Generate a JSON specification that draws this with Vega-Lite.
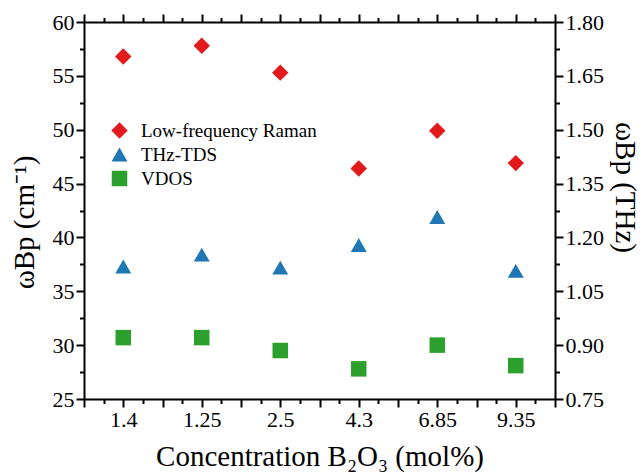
{
  "$schema": "https://vega.github.io/schema/vega-lite/v6.json",
  "width": 471,
  "height": 377,
  "autosize": "none",
  "padding": {"left": 84, "top": 22, "right": 88, "bottom": 77},
  "background": "white",
  "config": {
    "view": {"stroke": null},
    "font": "Liberation Serif",
    "axis": {
      "grid": false,
      "domainColor": "black",
      "domainWidth": 2,
      "tickColor": "black",
      "tickWidth": 2,
      "labelFont": "Liberation Serif",
      "labelFontSize": 22,
      "labelColor": "black",
      "labelPadding": 2,
      "labelOverlap": false,
      "labelFlush": false,
      "titleFont": "Liberation Serif",
      "titleFontSize": 29,
      "titleFontWeight": "normal",
      "titleColor": "black"
    }
  },
  "data": {
    "values": [
      {"conc": "1.4", "idx": 1, "series": "Low-frequency Raman", "value": 56.8},
      {"conc": "1.25", "idx": 2, "series": "Low-frequency Raman", "value": 57.8},
      {"conc": "2.5", "idx": 3, "series": "Low-frequency Raman", "value": 55.3},
      {"conc": "4.3", "idx": 4, "series": "Low-frequency Raman", "value": 46.4},
      {"conc": "6.85", "idx": 5, "series": "Low-frequency Raman", "value": 49.9},
      {"conc": "9.35", "idx": 6, "series": "Low-frequency Raman", "value": 46.9},
      {"conc": "1.4", "idx": 1, "series": "THz-TDS", "value": 37.3},
      {"conc": "1.25", "idx": 2, "series": "THz-TDS", "value": 38.4},
      {"conc": "2.5", "idx": 3, "series": "THz-TDS", "value": 37.2},
      {"conc": "4.3", "idx": 4, "series": "THz-TDS", "value": 39.3},
      {"conc": "6.85", "idx": 5, "series": "THz-TDS", "value": 41.9},
      {"conc": "9.35", "idx": 6, "series": "THz-TDS", "value": 36.9},
      {"conc": "1.4", "idx": 1, "series": "VDOS", "value": 30.7},
      {"conc": "1.25", "idx": 2, "series": "VDOS", "value": 30.7},
      {"conc": "2.5", "idx": 3, "series": "VDOS", "value": 29.5},
      {"conc": "4.3", "idx": 4, "series": "VDOS", "value": 27.8},
      {"conc": "6.85", "idx": 5, "series": "VDOS", "value": 30.0},
      {"conc": "9.35", "idx": 6, "series": "VDOS", "value": 28.1}
    ]
  },
  "layer": [
    {
      "mark": {"type": "point", "filled": true, "opacity": 1},
      "encoding": {
        "x": {
          "field": "idx",
          "type": "quantitative",
          "scale": {"domain": [0.5, 6.5], "nice": false, "zero": false},
          "axis": {
            "orient": "bottom",
            "title": "Concentration B₂O₃ (mol%)",
            "titlePadding": 12,
            "ticks": true,
            "tickSize": {"condition": {"test": "datum.value % 0.5 == 0", "value": 8}, "value": 4.5},
            "values": [0.5, 0.75, 1, 1.25, 1.5, 1.75, 2, 2.25, 2.5, 2.75, 3, 3.25, 3.5, 3.75, 4, 4.25, 4.5, 4.75, 5, 5.25, 5.5, 5.75, 6, 6.25, 6.5],
            "labelExpr": "datum.value % 1 == 0 ? ['1.4','1.25','2.5','4.3','6.85','9.35'][datum.value - 1] : ''"
          }
        },
        "y": {
          "field": "value",
          "type": "quantitative",
          "scale": {"domain": [25, 60], "nice": false, "zero": false},
          "axis": {
            "orient": "left",
            "title": "ωBp (cm⁻¹)",
            "titlePadding": 13,
            "titleY": 200,
            "ticks": true,
            "tickSize": {"condition": {"test": "datum.value % 5 == 0", "value": 8}, "value": 4.5},
            "values": [25, 27.5, 30, 32.5, 35, 37.5, 40, 42.5, 45, 47.5, 50, 52.5, 55, 57.5, 60],
            "labelExpr": "datum.value % 5 == 0 ? datum.label : ''"
          }
        },
        "color": {
          "field": "series",
          "type": "nominal",
          "sort": ["Low-frequency Raman", "THz-TDS", "VDOS"],
          "scale": {"domain": ["Low-frequency Raman", "THz-TDS", "VDOS"], "range": ["#e31a1c", "#1f77b4", "#2ca02c"]},
          "legend": {
            "title": null,
            "orient": "none",
            "legendX": 26,
            "legendY": 99,
            "padding": 0,
            "symbolSize": 130,
            "symbolStrokeWidth": 0,
            "labelFont": "Liberation Serif",
            "labelFontSize": 19,
            "labelColor": "black",
            "labelLimit": 0,
            "labelOffset": 12,
            "rowPadding": 4
          }
        },
        "shape": {
          "field": "series",
          "type": "nominal",
          "sort": ["Low-frequency Raman", "THz-TDS", "VDOS"],
          "scale": {"domain": ["Low-frequency Raman", "THz-TDS", "VDOS"], "range": ["diamond", "triangle-up", "square"]}
        },
        "size": {
          "field": "series",
          "type": "nominal",
          "scale": {"domain": ["Low-frequency Raman", "THz-TDS", "VDOS"], "range": [270, 240, 165]},
          "legend": null
        }
      }
    },
    {
      "mark": {"type": "point", "opacity": 0},
      "encoding": {
        "x": {
          "field": "idx",
          "type": "quantitative",
          "scale": {"domain": [0.5, 6.5], "nice": false, "zero": false},
          "axis": {
            "orient": "top",
            "title": null,
            "labels": false,
            "ticks": true,
            "tickSize": {"condition": {"test": "datum.value % 0.5 == 0", "value": 8}, "value": 4.5},
            "values": [0.5, 0.75, 1, 1.25, 1.5, 1.75, 2, 2.25, 2.5, 2.75, 3, 3.25, 3.5, 3.75, 4, 4.25, 4.5, 4.75, 5, 5.25, 5.5, 5.75, 6, 6.25, 6.5]
          }
        },
        "y": {
          "field": "value",
          "type": "quantitative",
          "scale": {"domain": [25, 60], "nice": false, "zero": false},
          "axis": {
            "orient": "right",
            "title": "ωBp (THz)",
            "titlePadding": 6,
            "titleY": 165,
            "ticks": true,
            "tickSize": {"condition": {"test": "datum.value % 5 == 0", "value": 8}, "value": 4.5},
            "values": [25, 27.5, 30, 32.5, 35, 37.5, 40, 42.5, 45, 47.5, 50, 52.5, 55, 57.5, 60],
            "labelExpr": "datum.value % 5 == 0 ? format(datum.value * 0.03, '.2f') : ''"
          }
        }
      }
    }
  ],
  "resolve": {"axis": {"x": "independent", "y": "independent"}}
}
